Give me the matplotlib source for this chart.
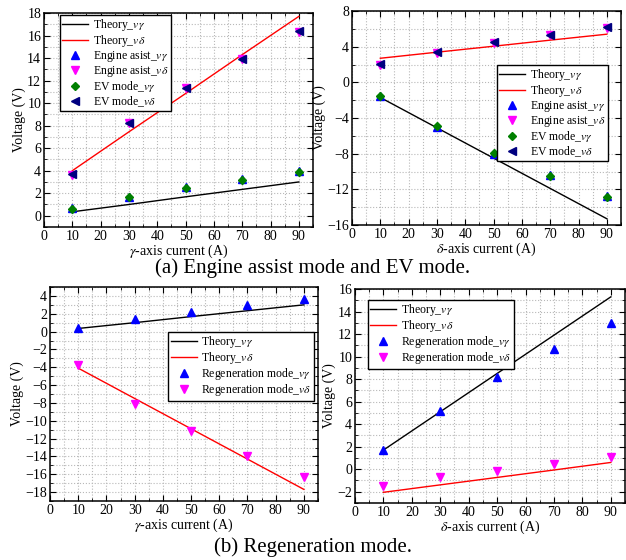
import numpy as np
import matplotlib
matplotlib.use("Agg")
import matplotlib.pyplot as plt
from matplotlib.ticker import MultipleLocator

plt.rcParams['font.family'] = ['Liberation Serif', 'DejaVu Serif']
plt.rcParams['mathtext.fontset'] = 'stix'

current = [10, 30, 50, 70, 90]

# (a) engine assist / EV mode, gamma axis
a_theory_vg = [0.35, 1.0, 1.68, 2.34, 3.0]
a_theory_vd = [4.0, 7.45, 10.85, 14.3, 17.7]
ea_vg = [0.7, 1.7, 2.55, 3.3, 4.0]
ea_vd = [3.6, 8.2, 11.3, 13.9, 16.3]
ev_vg = [0.6, 1.65, 2.45, 3.2, 3.9]
ev_vd = [3.7, 8.25, 11.35, 13.95, 16.4]

# (a) delta axis
b_theory_vg = [-1.7, -5.1, -8.5, -11.9, -15.3]
b_theory_vd = [2.7, 3.38, 4.05, 4.73, 5.4]
ea2_vg = [-1.5, -5.0, -8.0, -10.4, -12.7]
ea2_vd = [2.0, 3.3, 4.4, 5.3, 6.1]
ev2_vg = [-1.55, -4.9, -7.95, -10.5, -12.9]
ev2_vd = [2.1, 3.4, 4.5, 5.35, 6.15]

# (b) regeneration, gamma axis
c_theory_vg = [0.35, 1.0, 1.68, 2.34, 3.0]
c_theory_vd = [-4.1, -7.5, -10.9, -14.3, -17.7]
rg_vg = [0.45, 1.45, 2.2, 2.95, 3.7]
rg_vd = [-3.8, -8.1, -11.2, -14.0, -16.3]

# (b) regeneration, delta axis
d_theory_vg = [1.7, 5.1, 8.5, 11.9, 15.3]
d_theory_vd = [-2.05, -1.39, -0.73, -0.07, 0.6]
rg2_vg = [1.75, 5.15, 8.2, 10.7, 12.95]
rg2_vd = [-1.45, -0.7, -0.15, 0.45, 1.1]

W, H = 626, 560
fig = plt.figure(figsize=(W / 100, H / 100), dpi=100)


def make_ax(l, r, t, b):
    return fig.add_axes([l / W, 1 - b / H, (r - l) / W, (b - t) / H])


def style(ax, ylim, ymaj, ymin, xlabel):
    ax.set_xlim(0, 95)
    ax.set_ylim(*ylim)
    ax.xaxis.set_major_locator(MultipleLocator(10))
    ax.xaxis.set_minor_locator(MultipleLocator(5))
    ax.yaxis.set_major_locator(MultipleLocator(ymaj))
    ax.yaxis.set_minor_locator(MultipleLocator(ymin))
    ax.grid(True, which='both', color='#b8b8b8', linestyle=':', linewidth=0.8)
    ax.set_axisbelow(True)
    ax.tick_params(which='both', direction='in', top=True, right=True, labelsize=10, pad=2)
    ax.tick_params(which='major', length=4)
    ax.tick_params(which='minor', length=2)
    for s in ax.spines.values():
        s.set_linewidth(1.1)
    ax.set_xlabel(xlabel, fontsize=10, labelpad=0)
    ax.set_ylabel('Voltage (V)', fontsize=10, labelpad=1)


def legend(ax, loc, anchor):
    ax.legend(loc=loc, bbox_to_anchor=anchor, fontsize=8.5, frameon=True,
              fancybox=False, edgecolor='black', framealpha=1, borderpad=0.2,
              labelspacing=0.0, handlelength=2.2, handletextpad=0.4,
              borderaxespad=0)


ms = 6
lab_tg = r'Theory_$v\gamma$'
lab_td = r'Theory_$v\delta$'

# top-left
ax1 = make_ax(44, 313, 13, 227)
ax1.plot(current, a_theory_vg, color='black', lw=1, label=lab_tg)
ax1.plot(current, a_theory_vd, color='red', lw=1, label=lab_td)
ax1.plot(current, ea_vg, '^', color='blue', ms=ms, ls='none', label=r'Engine asist_$v\gamma$')
ax1.plot(current, ea_vd, 'v', color='magenta', ms=ms, ls='none', label=r'Engine asist_$v\delta$')
ax1.plot(current, ev_vg, 'D', color='green', ms=4.5, ls='none', label=r'EV mode_$v\gamma$')
ax1.plot(current, ev_vd, '<', color='#000080', ms=ms, ls='none', label=r'EV mode_$v\delta$')
style(ax1, (-1, 18), 2, 1, r'$\gamma$-axis current (A)')
legend(ax1, 'upper left', ((60 - 44) / 269, (227 - 15) / 214))

# top-right
ax2 = make_ax(352, 621, 11, 225)
ax2.plot(current, b_theory_vg, color='black', lw=1, label=lab_tg)
ax2.plot(current, b_theory_vd, color='red', lw=1, label=lab_td)
ax2.plot(current, ea2_vg, '^', color='blue', ms=ms, ls='none', label=r'Engine asist_$v\gamma$')
ax2.plot(current, ea2_vd, 'v', color='magenta', ms=ms, ls='none', label=r'Engine asist_$v\delta$')
ax2.plot(current, ev2_vg, 'D', color='green', ms=4.5, ls='none', label=r'EV mode_$v\gamma$')
ax2.plot(current, ev2_vd, '<', color='#000080', ms=ms, ls='none', label=r'EV mode_$v\delta$')
style(ax2, (-16, 8), 4, 2, r'$\delta$-axis current (A)')
legend(ax2, 'upper right', ((608 - 352) / 269, (225 - 65) / 214))

# bottom-left
ax3 = make_ax(50, 318, 287, 501)
ax3.plot(current, c_theory_vg, color='black', lw=1, label=lab_tg)
ax3.plot(current, c_theory_vd, color='red', lw=1, label=lab_td)
ax3.plot(current, rg_vg, '^', color='blue', ms=ms, ls='none', label=r'Regeneration mode_$v\gamma$')
ax3.plot(current, rg_vd, 'v', color='magenta', ms=ms, ls='none', label=r'Regeneration mode_$v\delta$')
style(ax3, (-19, 5), 2, 1, r'$\gamma$-axis current (A)')
legend(ax3, 'upper right', ((314 - 50) / 268, (501 - 332) / 214))

# bottom-right
ax4 = make_ax(355, 625, 289, 503)
ax4.plot(current, d_theory_vg, color='black', lw=1, label=lab_tg)
ax4.plot(current, d_theory_vd, color='red', lw=1, label=lab_td)
ax4.plot(current, rg2_vg, '^', color='blue', ms=ms, ls='none', label=r'Regeneration mode_$v\gamma$')
ax4.plot(current, rg2_vd, 'v', color='magenta', ms=ms, ls='none', label=r'Regeneration mode_$v\delta$')
style(ax4, (-3, 16), 2, 1, r'$\delta$-axis current (A)')
legend(ax4, 'upper left', ((368 - 355) / 270, (503 - 300) / 214))

fig.text(0.5, 1 - 268 / H, '(a) Engine assist mode and EV mode.', ha='center', va='center', fontsize=15)
fig.text(0.5, 1 - 547 / H, '(b) Regeneration mode.', ha='center', va='center', fontsize=15)

fig.savefig('out.png', dpi=100)
